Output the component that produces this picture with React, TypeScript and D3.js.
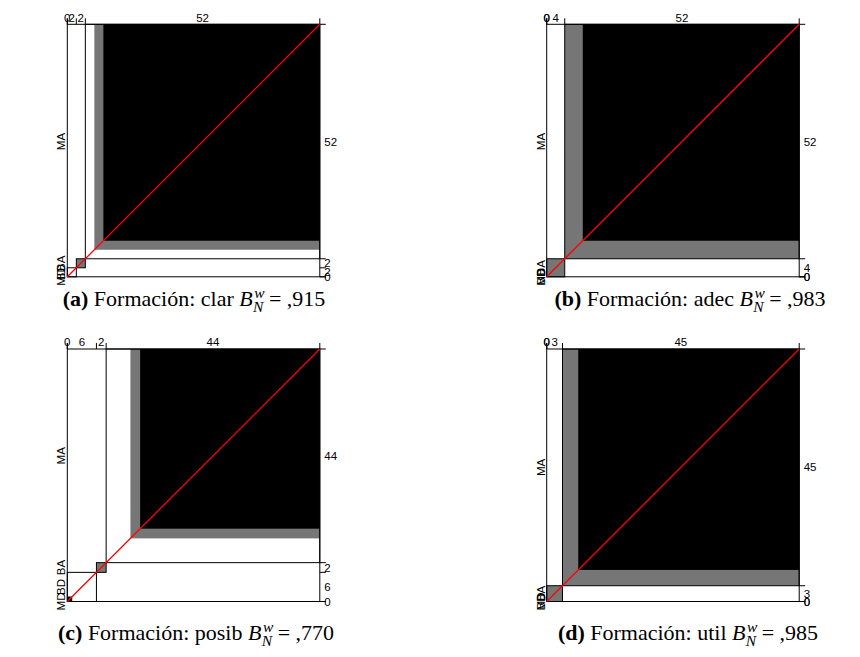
import React from "react";
import * as d3 from "d3";

// Rating categories, lowest to highest
const categories = ["MD", "BD", "BA", "MA"];

// Cross tables (rows: first rating, vertical axis; columns: second rating, horizontal axis)
const clarTable = [
  [0, 0, 0, 0],
  [0, 0, 0, 2],
  [0, 0, 0, 2],
  [0, 2, 2, 48],
];
const adecTable = [
  [0, 0, 0, 0],
  [0, 0, 0, 0],
  [0, 0, 0, 4],
  [0, 0, 4, 48],
];
const posibTable = [
  [0, 0, 0, 0],
  [0, 1, 0, 5],
  [0, 0, 0, 2],
  [0, 5, 2, 37],
];
const utilTable = [
  [0, 0, 0, 0],
  [0, 0, 0, 0],
  [0, 0, 0, 3],
  [0, 0, 3, 42],
];

const panelTags = ["(a)", "(b)", "(c)", "(d)"];
const itemNames = ["clar", "adec", "posib", "util"];
const bangdiwalaValues = [",915", ",983", ",770", ",985"];

const tables = [clarTable, adecTable, posibTable, utilTable];
const panelLefts = [67.3, 546.7, 67.3, 546.7];
const panelTops = [24.3, 24.3, 349, 349];
const SIZE = 252.5;
const SANS = "'Liberation Sans', Arial, sans-serif";
const SERIF = "'Liberation Serif', 'DejaVu Serif', serif";

type PanelProps = { table: number[][]; left: number; top: number; size: number };

function AgreementPanel({ table, left, top, size }: PanelProps) {
  const k = table.length;
  const rowSums = table.map((r) => d3.sum(r));
  const colSums = table[0].map((_, j) => d3.sum(table, (r) => r[j]));
  const n = d3.sum(rowSums);
  const x = d3.scaleLinear().domain([0, n]).range([left, left + size]);
  const y = d3.scaleLinear().domain([0, n]).range([top + size, top]);
  const xc = [0, ...Array.from(d3.cumsum(colSums))];
  const yc = [0, ...Array.from(d3.cumsum(rowSums))];
  const right = left + size;

  const sumCol = (j: number, pred: (r: number) => boolean) =>
    d3.sum(table.map((row, r) => (pred(r) ? row[j] : 0)));
  const sumRow = (i: number, pred: (c: number) => boolean) =>
    d3.sum(table[i].map((v, c) => (pred(c) ? v : 0)));

  const idx = d3.range(k);

  // one-step partial agreement (adjacent categories)
  const partial = idx.map((i) => {
    const x0 = xc[i] + sumCol(i, (r) => r < i - 1);
    const w = sumCol(i, (r) => Math.abs(r - i) <= 1);
    const y0 = yc[i] + sumRow(i, (c) => c < i - 1);
    const h = sumRow(i, (c) => Math.abs(c - i) <= 1);
    return { x0, w, y0, h };
  });
  // exact agreement
  const exact = idx.map((i) => {
    const x0 = xc[i] + sumCol(i, (r) => r < i);
    const y0 = yc[i] + sumRow(i, (c) => c < i);
    return { x0, y0, s: table[i][i] };
  });

  return (
    <g>
      <rect x={left} y={top} width={size} height={size} fill="white" stroke="none" />
      {partial.map((p, i) =>
        p.w > 0 && p.h > 0 ? (
          <rect
            key={"p" + i}
            x={x(p.x0)}
            y={y(p.y0 + p.h)}
            width={x(p.x0 + p.w) - x(p.x0)}
            height={y(p.y0) - y(p.y0 + p.h)}
            fill="#767676"
          />
        ) : null
      )}
      {exact.map((e, i) =>
        e.s > 0 ? (
          <rect
            key={"e" + i}
            x={x(e.x0)}
            y={y(e.y0 + e.s)}
            width={x(e.x0 + e.s) - x(e.x0)}
            height={y(e.y0) - y(e.y0 + e.s)}
            fill="black"
          />
        ) : null
      )}
      {idx.map((i) => (
        <rect
          key={"b" + i}
          x={x(xc[i])}
          y={y(yc[i + 1])}
          width={x(xc[i + 1]) - x(xc[i])}
          height={y(yc[i]) - y(yc[i + 1])}
          fill="none"
          stroke="black"
          strokeWidth={1}
        />
      ))}
      <rect x={left} y={top} width={size} height={size} fill="none" stroke="black" strokeWidth={1} />
      <line x1={x(0)} y1={y(0)} x2={x(n)} y2={y(n)} stroke="#ff0000" strokeWidth={1.3} />
      {xc.map((v, i) => (
        <line key={"tx" + i} x1={x(v)} x2={x(v)} y1={top} y2={top - 6} stroke="black" />
      ))}
      {yc.map((v, i) => (
        <line key={"ty" + i} x1={right} x2={right + 6} y1={y(v)} y2={y(v)} stroke="black" />
      ))}
      {idx.map((i) => (
        <text
          key={"lx" + i}
          x={x(xc[i] + colSums[i] / 2)}
          y={top - 2.6}
          textAnchor="middle"
          fontFamily={SANS}
          fontSize={11.5}
        >
          {colSums[i]}
        </text>
      ))}
      {idx.map((i) => (
        <text
          key={"ly" + i}
          x={right + 4.5}
          y={y(yc[i] + rowSums[i] / 2)}
          dominantBaseline="central"
          fontFamily={SANS}
          fontSize={11.5}
        >
          {rowSums[i]}
        </text>
      ))}
      {idx.map((i) => (
        <text
          key={"lc" + i}
          transform={`translate(${left - 2},${y(yc[i] + rowSums[i] / 2)}) rotate(-90)`}
          textAnchor="middle"
          fontFamily={SANS}
          fontSize={11.5}
        >
          {categories[i]}
        </text>
      ))}
    </g>
  );
}

function Caption({ x, y, tag, name, value }: { x: number; y: number; tag: string; name: string; value: string }) {
  return (
    <text x={x} y={y} fontFamily={SERIF} fontSize={22} textAnchor="middle" style={{ whiteSpace: "pre" }}>
      <tspan fontWeight="bold">{tag}</tspan>
      <tspan>{" Formación: " + name + " "}</tspan>
      <tspan fontStyle="italic">B</tspan>
      <tspan fontStyle="italic" fontSize={15.5} dx={1.5} dy={-8.5}>
        w
      </tspan>
      <tspan fontStyle="italic" fontSize={15.5} dx={-11.5} dy={14}>
        N
      </tspan>
      <tspan dy={-5.5}>{" = " + value}</tspan>
    </text>
  );
}

export default function App() {
  const captionYs = [306, 306, 640, 640];
  const captionXs = [194, 690, 196, 688];
  return (
    <svg width={860} height={657} style={{ display: "block", position: "absolute", left: 0, top: 0 }}>
      <rect width={860} height={657} fill="white" />
      {tables.map((t, i) => (
        <AgreementPanel key={i} table={t} left={panelLefts[i]} top={panelTops[i]} size={SIZE} />
      ))}
      {tables.map((_, i) => (
        <Caption
          key={"c" + i}
          x={captionXs[i]}
          y={captionYs[i]}
          tag={panelTags[i]}
          name={itemNames[i]}
          value={bangdiwalaValues[i]}
        />
      ))}
    </svg>
  );
}
